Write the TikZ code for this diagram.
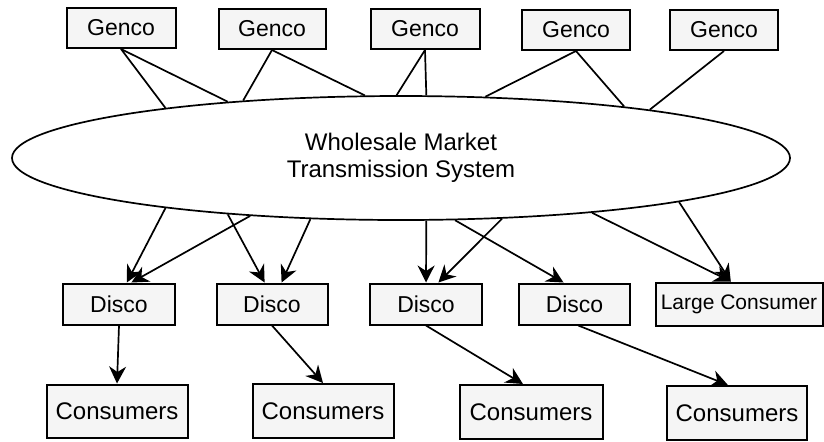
\documentclass[tikz,border=0pt]{standalone}
\usepackage{fontspec}
\setmainfont{Liberation Sans}
\usetikzlibrary{shapes.geometric,arrows.meta}

\begin{document}
\begin{tikzpicture}[x=0.5pt,y=-0.5pt,
    box/.style={draw, line width=1pt, fill=black!4, inner sep=0pt, font=\fontsize{11.5}{14}\selectfont},
    link/.style={line width=0.85pt},
    flow/.style={line width=0.85pt, -{Stealth[length=8.5pt,width=8.5pt]}}]
  \useasboundingbox (0,0) rectangle (824,441);
  % market
  \node[draw, ellipse, line width=0.85pt, inner sep=0pt, minimum width=389pt, minimum height=62pt,
        align=center, font=\fontsize{12}{13.5}\selectfont] (wm) at (401,158)
        {Wholesale Market\\Transmission System};
  % generators
  \node[box, minimum width=54.5pt, minimum height=20pt] (g1) at (121,28) {Genco};
  \node[box, minimum width=53.5pt, minimum height=20pt] (g2) at (272,29) {Genco};
  \node[box, minimum width=54.5pt, minimum height=20pt] (g3) at (425,29) {Genco};
  \node[box, minimum width=54pt, minimum height=20pt] (g4) at (576,30) {Genco};
  \node[box, minimum width=54pt, minimum height=20pt] (g5) at (724,30) {Genco};
  % distribution
  \node[box, minimum width=56pt, minimum height=20.5pt] (d1) at (119,304) {Disco};
  \node[box, minimum width=55.5pt, minimum height=20.5pt] (d2) at (272,304) {Disco};
  \node[box, minimum width=56pt, minimum height=20.5pt] (d3) at (426,304) {Disco};
  \node[box, minimum width=55.5pt, minimum height=20.5pt] (d4) at (574.5,304) {Disco};
  \node[box, minimum width=83.5pt, minimum height=21.5pt, font=\fontsize{10.5}{12}\selectfont] (lc) at (739,304) {Large Consumer};
  % consumers
  \node[box, minimum width=70.5pt, minimum height=26.5pt, font=\fontsize{12}{14}\selectfont] (c1) at (117,411) {Consumers};
  \node[box, minimum width=70.5pt, minimum height=27pt, font=\fontsize{12}{14}\selectfont] (c2) at (323,411) {Consumers};
  \node[box, minimum width=71.5pt, minimum height=27pt, font=\fontsize{12}{14}\selectfont] (c3) at (531,412) {Consumers};
  \node[box, minimum width=70pt, minimum height=27pt, font=\fontsize{12}{14}\selectfont] (c4) at (737,413) {Consumers};
  % gencos to market
  \draw[link] (g1.south) -- (wm.168.2);
  \draw[link] (g1.south) -- (wm.162.1);
  \draw[link] (g2.south) -- (wm.160.2);
  \draw[link] (g2.south) -- (wm.120.1);
  \draw[link] (g3.south) -- (wm.94.6);
  \draw[link] (g3.south) -- (wm.68.8);
  \draw[link] (g4.south) -- (wm.36.2);
  \draw[link] (g4.south) -- (wm.13.3);
  \draw[link] (g5.south) -- (wm.11.0);
  % market to discos
  \draw[flow] (wm.192.5) -- (d1.70);
  \draw[flow] (wm.201.1) -- (d1.60);
  \draw[flow] (wm.198.0) -- (d2.109);
  \draw[flow] (wm.214.3) -- (d2.66);
  \draw[flow] (wm.292.0) -- (d3.north);
  \draw[flow] (wm.329.7) -- (d3.60);
  \draw[flow] (wm.311.1) -- (d4.117);
  \draw[flow] (wm.344.7) -- (lc.110);
  \draw[flow] (wm.351.0) -- (lc.110);
  % discos to consumers
  \draw[flow] (d1.south) -- (c1.north);
  \draw[flow] (d2.south) -- (c2.north);
  \draw[flow] (d3.south) -- (c3.106.5);
  \draw[flow] (d4.280) -- (c4.108);
\end{tikzpicture}
\end{document}
